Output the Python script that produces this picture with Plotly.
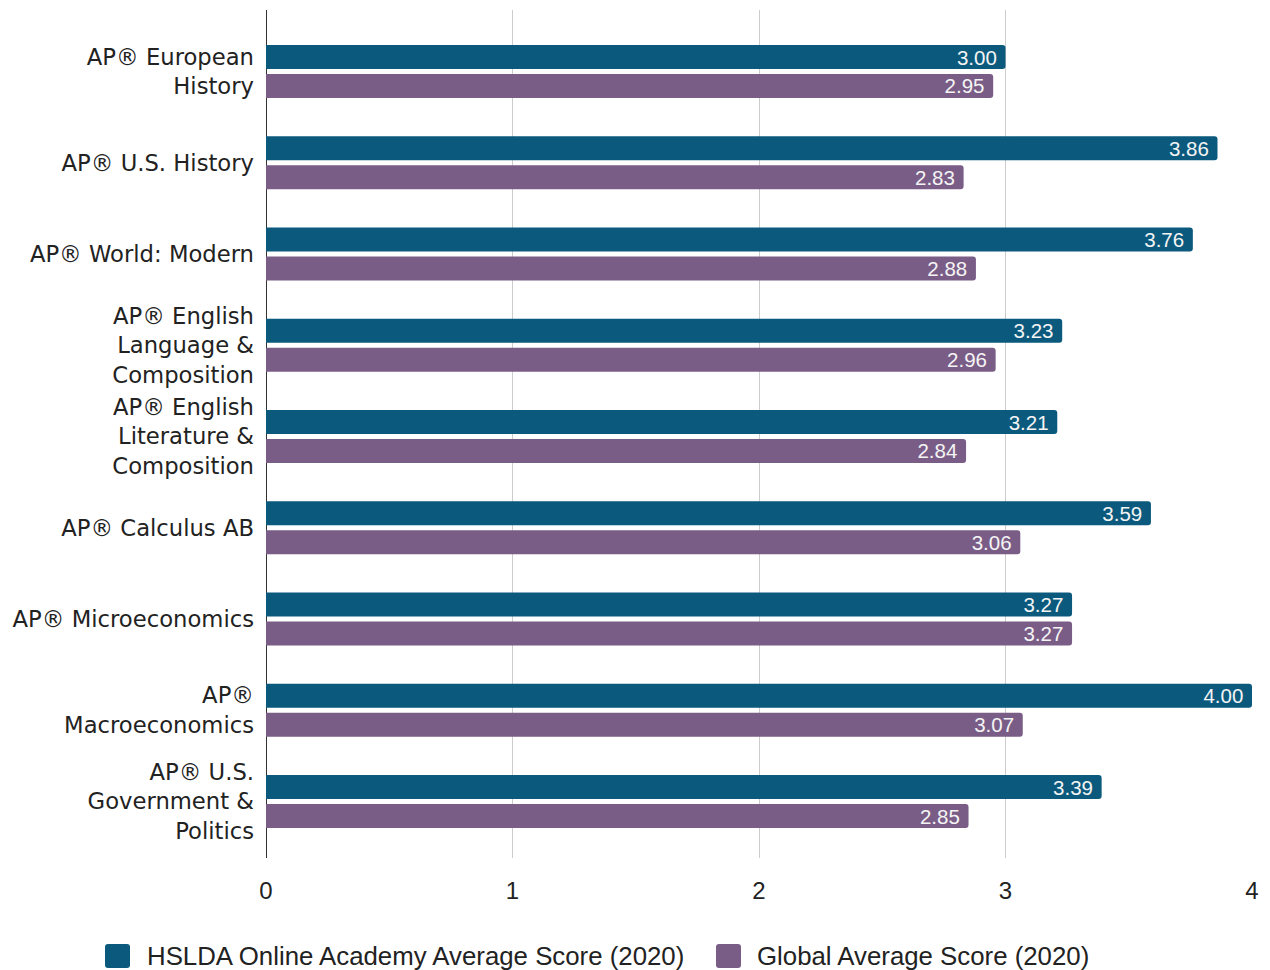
import plotly.graph_objects as go

categories = [
    "AP® European<br>History",
    "AP® U.S. History",
    "AP® World: Modern",
    "AP® English<br>Language &<br>Composition",
    "AP® English<br>Literature &<br>Composition",
    "AP® Calculus AB",
    "AP® Microeconomics",
    "AP®<br>Macroeconomics",
    "AP® U.S.<br>Government &<br>Politics",
]
hslda_scores = [3.00, 3.86, 3.76, 3.23, 3.21, 3.59, 3.27, 4.00, 3.39]
global_scores = [2.95, 2.83, 2.88, 2.96, 2.84, 3.06, 3.27, 3.07, 2.85]
series_names = ["HSLDA Online Academy Average Score (2020)", "Global Average Score (2020)"]
x_ticks = [0, 1, 2, 3, 4]

BLUE = "#0b5a7e"
PURPLE = "#7a5d87"
colors = [BLUE, PURPLE]

fig = go.Figure()
for name, vals, col in zip(series_names, [hslda_scores, global_scores], colors):
    fig.add_trace(go.Bar(
        y=categories, x=vals, name=name, orientation="h",
        marker=dict(color=col, line=dict(width=0)),
        text=[f"{v:.2f}\u00a0" for v in vals],
        textposition="inside", insidetextanchor="end", constraintext="none",
        textfont=dict(color="#f4f4f4", size=20.5, family="Liberation Sans"),
        cliponaxis=False, showlegend=False,
    ))

# legend drawn as rounded squares + text, anchored to the plot's bottom-left corner
legend_items = [(series_names[0], BLUE, -161, -121), (series_names[1], PURPLE, 450, 489)]
shapes = []
annotations = []
for name, col, sq_x, txt_x in legend_items:
    w, h, r = 25, 24, 3
    x0, x1, y0, y1 = sq_x, sq_x + w, -98 - h / 2, -98 + h / 2
    path = (f"M{x0+r},{y0} L{x1-r},{y0} Q{x1},{y0} {x1},{y0+r} L{x1},{y1-r} Q{x1},{y1} {x1-r},{y1} "
            f"L{x0+r},{y1} Q{x0},{y1} {x0},{y1-r} L{x0},{y0+r} Q{x0},{y0} {x0+r},{y0} Z")
    shapes.append(dict(type="path", xref="paper", yref="paper", xsizemode="pixel", ysizemode="pixel",
                       xanchor=0, yanchor=0, path=path, fillcolor=col, line=dict(width=0)))
    annotations.append(dict(text=name, xref="paper", yref="paper", x=0, y=0, xshift=txt_x, yshift=-98,
                            xanchor="left", yanchor="middle", showarrow=False,
                            font=dict(family="Liberation Sans", size=25.8, color="#222222")))

fig.update_layout(
    width=1262, height=962,
    margin=dict(l=258, r=18, t=2, b=112),
    paper_bgcolor="white", plot_bgcolor="white",
    barmode="group", bargap=0.365, bargroupgap=0.17, barcornerradius=3,
    font=dict(family="DejaVu Sans", size=22.7, color="#222222"),
    showlegend=False,
    shapes=shapes, annotations=annotations,
)
fig.update_xaxes(range=[0, 4], tickvals=x_ticks, showgrid=True, gridcolor="#cccccc", gridwidth=1,
                 zeroline=True, zerolinecolor="#333333", zerolinewidth=1,
                 ticklabelstandoff=16, tickfont=dict(family="Liberation Sans", size=24, color="#222222"),
                 fixedrange=True)
fig.update_yaxes(categoryorder="array", categoryarray=categories, range=[8.619, -0.674],
                 showgrid=False, ticks="", ticklabelstandoff=11,
                 tickfont=dict(family="DejaVu Sans", size=22.7, color="#222222"))

fig.write_html("out.html")
